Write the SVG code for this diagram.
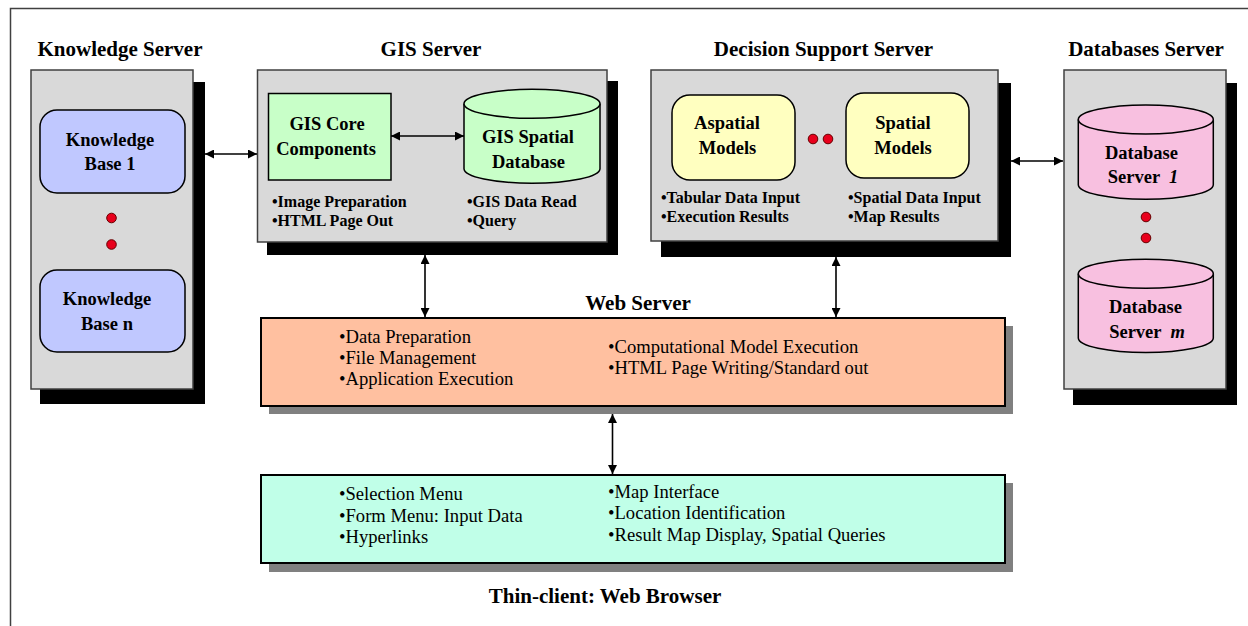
<svg xmlns="http://www.w3.org/2000/svg" width="1248" height="626" viewBox="0 0 1248 626">
<style>
text{font-family:"Liberation Serif","Times New Roman",serif;fill:#000}
.title{font-size:21px;font-weight:bold}
.lbl{font-size:18.5px;font-weight:bold;text-anchor:middle}
.bul{font-size:16px;font-weight:bold}
.reg{font-size:18.6px}
.panel{fill:#d9d9d9;stroke:#404040;stroke-width:1.5}
.shadow{fill:#000}
.gshadow{fill:#808080}
.dot{fill:#e8001c;stroke:#600;stroke-width:1}
.conn{stroke:#000;stroke-width:1.6;fill:none}
</style>
<defs>
<marker id="ah" viewBox="0 0 10 10" refX="10" refY="5" markerWidth="10" markerHeight="9" orient="auto-start-reverse" markerUnits="userSpaceOnUse">
<path d="M0,0 L10,5 L0,10 Z" fill="#000"/>
</marker>
</defs>
<rect width="1248" height="626" fill="#fff"/>
<path d="M10.5,626 V8.5 H1248" fill="none" stroke="#404040" stroke-width="1.5"/>

<g id="knowledge-server">
<text class="title" x="120" y="56" text-anchor="middle">Knowledge Server</text>
<rect class="shadow" x="40" y="82" width="165" height="322"/>
<rect class="panel" x="31" y="70" width="162" height="319"/>
<g id="kb1">
<rect x="40" y="110" width="145" height="83" rx="17" fill="#c0c8ff" stroke="#000" stroke-width="1.5"/>
<text class="lbl" x="110" y="146">Knowledge</text>
<text class="lbl" x="110" y="170">Base 1</text>
</g>
<circle class="dot" cx="111.5" cy="218" r="4.8"/>
<circle class="dot" cx="111.5" cy="244.5" r="4.8"/>
<g id="kbn">
<rect x="40" y="270" width="145" height="82" rx="17" fill="#c0c8ff" stroke="#000" stroke-width="1.5"/>
<text class="lbl" x="107" y="305">Knowledge</text>
<text class="lbl" x="107" y="330">Base n</text>
</g>
</g>

<g id="gis-server">
<text class="title" x="431" y="56" text-anchor="middle">GIS Server</text>
<rect class="shadow" x="267" y="81" width="351" height="174"/>
<rect class="panel" x="257.5" y="70" width="349.5" height="172"/>
<g id="gis-core">
<rect x="268.5" y="93.5" width="122.5" height="86.5" fill="#c8ffc8" stroke="#000" stroke-width="1.5"/>
<text class="lbl" x="327" y="130">GIS Core</text>
<text class="lbl" x="326" y="155">Components</text>
</g>
<g id="gis-db">
<path d="M464,103.8 V168.7 A68,14.5 0 0 0 600,168.7 V103.8" fill="#c8ffc8" stroke="#000" stroke-width="1.5"/>
<ellipse cx="532" cy="103.8" rx="68" ry="14.5" fill="#c8ffc8" stroke="#000" stroke-width="1.5"/>
<text class="lbl" x="528" y="143">GIS Spatial</text>
<text class="lbl" x="528.5" y="168">Database</text>
</g>
<text class="bul" x="272" y="207">•Image Preparation</text>
<text class="bul" x="272" y="226">•HTML Page Out</text>
<text class="bul" x="467" y="207">•GIS Data Read</text>
<text class="bul" x="467" y="226">•Query</text>
</g>

<g id="decision-support-server">
<text class="title" x="823.5" y="56" text-anchor="middle">Decision Support Server</text>
<rect class="shadow" x="661" y="83" width="350" height="174"/>
<rect class="panel" x="651" y="70" width="347" height="171"/>
<g id="aspatial">
<rect x="672" y="95" width="123" height="85" rx="18" fill="#ffffc0" stroke="#000" stroke-width="1.5"/>
<text class="lbl" x="727" y="129">Aspatial</text>
<text class="lbl" x="727.5" y="154">Models</text>
</g>
<circle class="dot" cx="813" cy="139" r="4.8"/>
<circle class="dot" cx="828" cy="139" r="4.8"/>
<g id="spatial">
<rect x="846" y="93" width="123" height="85" rx="18" fill="#ffffc0" stroke="#000" stroke-width="1.5"/>
<text class="lbl" x="903" y="129">Spatial</text>
<text class="lbl" x="903" y="154">Models</text>
</g>
<text class="bul" x="661" y="203">•Tabular Data Input</text>
<text class="bul" x="661" y="222">•Execution Results</text>
<text class="bul" x="848" y="203">•Spatial Data Input</text>
<text class="bul" x="848" y="222">•Map Results</text>
</g>

<g id="databases-server">
<text class="title" x="1146" y="56" text-anchor="middle">Databases Server</text>
<rect class="shadow" x="1073" y="83" width="164" height="322"/>
<rect class="panel" x="1064" y="70" width="162" height="319"/>
<g id="db1">
<path d="M1078.3,119.5 V184.8 A67.5,14.5 0 0 0 1213.3,184.8 V119.5" fill="#f8c0e0" stroke="#000" stroke-width="1.5"/>
<ellipse cx="1145.8" cy="119.5" rx="67.5" ry="14.5" fill="#f8c0e0" stroke="#000" stroke-width="1.5"/>
<text class="lbl" x="1141.5" y="159">Database</text>
<text class="lbl" x="1143" y="183" xml:space="preserve">Server  <tspan font-style="italic">1</tspan></text>
</g>
<circle class="dot" cx="1146" cy="217" r="4.8"/>
<circle class="dot" cx="1146" cy="238" r="4.8"/>
<g id="dbm">
<path d="M1078.3,273.7 V338 A67.5,14.5 0 0 0 1213.3,338 V273.7" fill="#f8c0e0" stroke="#000" stroke-width="1.5"/>
<ellipse cx="1145.8" cy="273.7" rx="67.5" ry="14.5" fill="#f8c0e0" stroke="#000" stroke-width="1.5"/>
<text class="lbl" x="1145.5" y="313">Database</text>
<text class="lbl" x="1147" y="338" xml:space="preserve">Server  <tspan font-style="italic">m</tspan></text>
</g>
</g>

<g id="web-server">
<text class="title" x="638" y="310" text-anchor="middle">Web Server</text>
<rect class="gshadow" x="269" y="326" width="744" height="88"/>
<rect x="261" y="318" width="744" height="88" fill="#ffc0a0" stroke="#000" stroke-width="2"/>
<text class="reg" x="339" y="343">•Data Preparation</text>
<text class="reg" x="339" y="364">•File Management</text>
<text class="reg" x="339" y="385">•Application Execution</text>
<text class="reg" x="608" y="353">•Computational Model Execution</text>
<text class="reg" x="608" y="374">•HTML Page Writing/Standard out</text>
</g>

<g id="web-browser">
<rect class="gshadow" x="269" y="483" width="744" height="89"/>
<rect x="261" y="475" width="744" height="88" fill="#c0ffe8" stroke="#000" stroke-width="2"/>
<text class="reg" x="339" y="500">•Selection Menu</text>
<text class="reg" x="339" y="522">•Form Menu: Input Data</text>
<text class="reg" x="339" y="543">•Hyperlinks</text>
<text class="reg" x="608" y="498">•Map Interface</text>
<text class="reg" x="608" y="519">•Location Identification</text>
<text class="reg" x="608" y="541">•Result Map Display, Spatial Queries</text>
<text class="title" x="605" y="603" text-anchor="middle">Thin-client: Web Browser</text>
</g>

<g id="connectors">
<line class="conn" x1="205" y1="154" x2="257" y2="154" marker-start="url(#ah)" marker-end="url(#ah)"/>
<line class="conn" x1="391" y1="136" x2="464" y2="136" marker-start="url(#ah)" marker-end="url(#ah)"/>
<line class="conn" x1="1011" y1="161" x2="1063" y2="161" marker-start="url(#ah)" marker-end="url(#ah)"/>
<line class="conn" x1="425" y1="255" x2="425" y2="317" marker-start="url(#ah)" marker-end="url(#ah)"/>
<line class="conn" x1="836" y1="257" x2="836" y2="317" marker-start="url(#ah)" marker-end="url(#ah)"/>
<line class="conn" x1="612.5" y1="414" x2="612.5" y2="474" marker-start="url(#ah)" marker-end="url(#ah)"/>
</g>
</svg>
